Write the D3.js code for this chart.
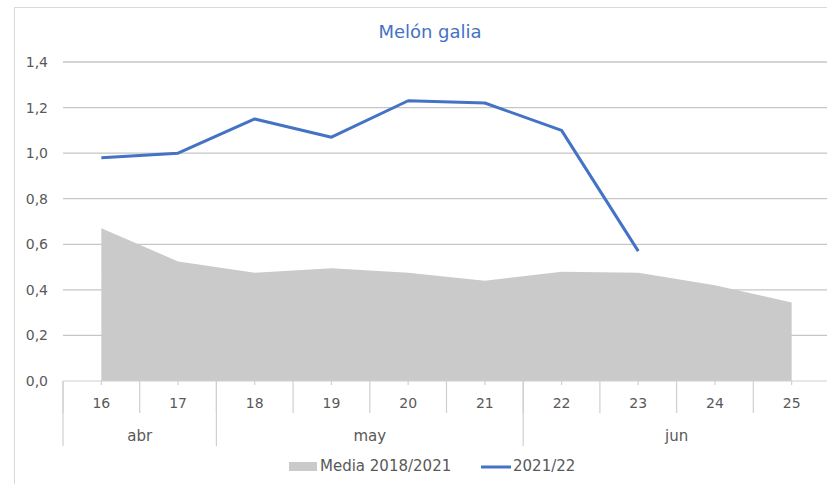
<!DOCTYPE html>
<html>
<head>
<meta charset="utf-8">
<script src="https://cdn.jsdelivr.net/npm/d3@7"></script>
<style>
  body { margin: 0; background: #fff; }
  text { font-family: "DejaVu Sans", sans-serif; fill: #595959; }
</style>
</head>
<body>
<script>
var width = 827,
    height = 484;

// data
var days = ["16", "17", "18", "19", "20", "21", "22", "23", "24", "25"];
var months = [{name: "abr", from: 0, to: 2}, {name: "may", from: 2, to: 6}, {name: "jun", from: 6, to: 10}];
var media = [0.67, 0.525, 0.475, 0.495, 0.475, 0.44, 0.48, 0.475, 0.42, 0.345];
var actual = [0.98, 1.00, 1.15, 1.07, 1.23, 1.22, 1.10, 0.57];
var yTicks = [0, 0.2, 0.4, 0.6, 0.8, 1.0, 1.2, 1.4];

var plotLeft = 63, plotRight = 830, plotTop = 62, plotBottom = 381;

var svg = d3.select("body")
            .append("svg")
            .attr("width", width)
            .attr("height", height);

// chart frame (bottom edge is off the picture)
svg.append("rect")
   .attr("x", 14.5).attr("y", 7.5)
   .attr("width", 830).attr("height", 490)
   .attr("fill", "none")
   .attr("stroke", "#d9d9d9");

var x = d3.scaleBand().domain(days).range([plotLeft, plotRight]);
var y = d3.scaleLinear().domain([0, 1.4]).range([plotBottom, plotTop]);
var cx = function(i) { return x(days[i]) + x.bandwidth() / 2; };

// gridlines
svg.append("g")
   .selectAll("line")
   .data(yTicks.slice(1))
   .enter()
   .append("line")
   .attr("x1", plotLeft).attr("x2", plotRight)
   .attr("y1", function(d) { return y(d); })
   .attr("y2", function(d) { return y(d); })
   .attr("stroke", "#c6c6c6")
   .attr("stroke-width", 1.3);

// y labels
svg.append("g")
   .selectAll("text")
   .data(yTicks)
   .enter()
   .append("text")
   .attr("x", 48)
   .attr("y", function(d) { return y(d) + 5; })
   .attr("text-anchor", "end")
   .style("font-size", "14px")
   .text(function(d) { return d3.format(".1f")(d).replace(".", ","); });

// area
var area = d3.area()
             .x(function(d, i) { return cx(i); })
             .y0(y(0))
             .y1(function(d) { return y(d); });

svg.append("path")
   .attr("d", area(media))
   .attr("fill", "#cacaca");

// line
var line = d3.line()
             .x(function(d, i) { return cx(i); })
             .y(function(d) { return y(d); });

svg.append("path")
   .attr("d", line(actual))
   .attr("fill", "none")
   .attr("stroke", "#4472c4")
   .attr("stroke-width", 3)
   .attr("stroke-linejoin", "round");

// category axis
var axis = svg.append("g").attr("stroke", "#d0d0d0").attr("stroke-width", 1.2);
axis.append("line")
    .attr("x1", plotLeft).attr("x2", plotRight)
    .attr("y1", plotBottom).attr("y2", plotBottom);

axis.selectAll(".sep")
    .data(days)
    .enter()
    .append("line")
    .attr("x1", function(d) { return x(d); })
    .attr("x2", function(d) { return x(d); })
    .attr("y1", plotBottom)
    .attr("y2", plotBottom + 32);

axis.selectAll(".tick")
    .data(days)
    .enter()
    .append("line")
    .attr("x1", function(d, i) { return cx(i); })
    .attr("x2", function(d, i) { return cx(i); })
    .attr("y1", plotBottom)
    .attr("y2", plotBottom + 4);

axis.selectAll(".msep")
    .data(months)
    .enter()
    .append("line")
    .attr("x1", function(d) { return x(days[d.from]); })
    .attr("x2", function(d) { return x(days[d.from]); })
    .attr("y1", plotBottom)
    .attr("y2", plotBottom + 65);

svg.append("g")
   .selectAll("text")
   .data(days)
   .enter()
   .append("text")
   .attr("x", function(d, i) { return cx(i); })
   .attr("y", 408)
   .attr("text-anchor", "middle")
   .style("font-size", "14px")
   .text(function(d) { return d; });

svg.append("g")
   .selectAll("text")
   .data(months)
   .enter()
   .append("text")
   .attr("x", function(d) { return (x(days[d.from]) + x(days[d.to - 1]) + x.bandwidth()) / 2; })
   .attr("y", 441)
   .attr("text-anchor", "middle")
   .style("font-size", "15px")
   .text(function(d) { return d.name; });

// title
svg.append("text")
   .attr("x", 430)
   .attr("y", 38)
   .attr("text-anchor", "middle")
   .style("font-size", "18px")
   .style("fill", "#4472c4")
   .text("Melón galia");

// legend
var legend = svg.append("g");
legend.append("rect")
      .attr("x", 289).attr("y", 462)
      .attr("width", 28).attr("height", 9)
      .attr("fill", "#cacaca");
legend.append("text")
      .attr("x", 320).attr("y", 471)
      .style("font-size", "15px")
      .text("Media 2018/2021");
legend.append("line")
      .attr("x1", 481).attr("x2", 511)
      .attr("y1", 467).attr("y2", 467)
      .attr("stroke", "#4472c4")
      .attr("stroke-width", 3);
legend.append("text")
      .attr("x", 513).attr("y", 471)
      .style("font-size", "15px")
      .text("2021/22");
</script>
</body>
</html>
